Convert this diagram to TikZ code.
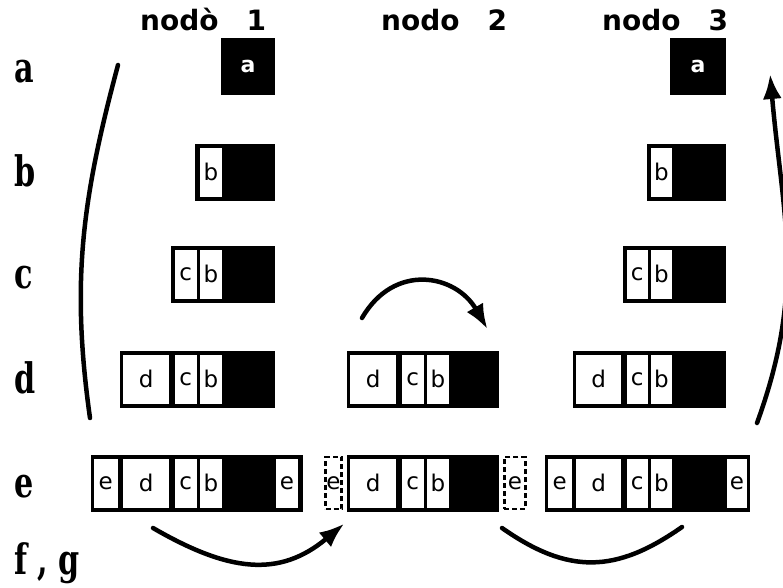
\documentclass[tikz,border=0pt]{standalone}
\usepackage{fontspec}
\newfontfamily\headfont{DejaVu Sans}
\newfontfamily\cellfont{DejaVu Sans}
\newfontfamily\rowfont{DejaVu Serif}
\usetikzlibrary{positioning,arrows,arrows.meta}
\tikzset{
	boxnode/.style={fill=black,draw=none,inner sep=0pt,minimum height=57pt},
	cellnode/.style={fill=white,draw=none,inner sep=0pt,minimum height=49pt,font=\cellfont\fontsize{23}{23}\selectfont},
	dashcell/.style={draw=black,fill=white,dash pattern=on 5pt off 3pt,line width=2.5pt,inner sep=0pt,minimum height=52pt,font=\cellfont\fontsize{23}{23}\selectfont},
	toplabel/.style={font=\headfont\bfseries\fontsize{28}{28}\selectfont,anchor=base west,inner sep=0pt},
	rowlabel/.style={font=\rowfont\bfseries\fontsize{42}{42}\selectfont,anchor=base west,inner sep=0pt,xscale=0.72,transform shape},
	myarc/.style={line width=4.5pt,line cap=round},
	myarrow/.style={-{Latex[length=25pt,width=19pt]},shorten >=1pt,line width=4.5pt,line cap=round}
}
\begin{document}
\begin{tikzpicture}[x=1pt,y=1pt]
		\useasboundingbox (0,0) rectangle (783,-587);
		% column heads and row letters
		\node[toplabel](head1) at (140,-30){nodò\hspace{1em}1};
		\node[toplabel](head2) at (381,-30){nodo\hspace{1em}2};
		\node[toplabel](head3) at (602,-30){nodo\hspace{1em}3};
		\node[rowlabel](rowa) at (14,-82){a};
		\node[rowlabel](rowb) at (14,-186){b};
		\node[rowlabel](rowc) at (14,-288){c};
		\node[rowlabel](rowd) at (14,-393){d};
		\node[rowlabel](rowe) at (14,-497){e};
		\node[rowlabel](rowfg) at (14,-574){f , g};
		% nodo 1
		\node[boxnode,minimum width=54pt,text=white,font=\headfont\bfseries\fontsize{22}{22}\selectfont](n1a) at (248,-66){a};
		\node[boxnode,minimum width=80pt](n1b) at (235,-172){};
		\node[cellnode,minimum width=22pt,left=53pt of n1b.east](n1bb){b};
		\node[boxnode,minimum width=104pt](n1c) at (223,-274){};
		\node[cellnode,minimum width=22pt,left=53pt of n1c.east](n1cb){b};
		\node[cellnode,minimum width=22pt,left=3pt of n1cb](n1cc){c};
		\node[boxnode,minimum width=155pt](n1d) at (197.5,-379){};
		\node[cellnode,minimum width=22pt,left=53pt of n1d.east](n1db){b};
		\node[cellnode,minimum width=22pt,left=3pt of n1db](n1dc){c};
		\node[cellnode,minimum width=46pt,left=5pt of n1dc](n1dd){d};
		\node[boxnode,minimum width=212pt](n1e) at (197,-483){};
		\node[cellnode,minimum width=22pt,left=5pt of n1e.east](n1ex){e};
		\node[cellnode,minimum width=22pt,left=81pt of n1e.east](n1eb){b};
		\node[cellnode,minimum width=22pt,left=3pt of n1eb](n1ec){c};
		\node[cellnode,minimum width=46pt,left=5pt of n1ec](n1ed){d};
		\node[cellnode,minimum width=24pt,left=5pt of n1ed](n1ee){e};
		% nodo 2
		\node[boxnode,minimum width=152pt](n2d) at (423,-379){};
		\node[cellnode,minimum width=22pt,left=50pt of n2d.east](n2db){b};
		\node[cellnode,minimum width=22pt,left=3pt of n2db](n2dc){c};
		\node[cellnode,minimum width=46pt,left=5pt of n2dc](n2dd){d};
		\node[boxnode,minimum width=152pt](n2e) at (423,-483){};
		\node[cellnode,minimum width=22pt,left=50pt of n2e.east](n2eb){b};
		\node[cellnode,minimum width=22pt,left=3pt of n2eb](n2ec){c};
		\node[cellnode,minimum width=46pt,left=5pt of n2ec](n2ed){d};
		\node[dashcell,minimum width=16pt,left=4pt of n2e](n2el){e};
		\node[dashcell,minimum width=21pt,right=4pt of n2e](n2er){e};
		% nodo 3
		\node[boxnode,minimum width=56pt,text=white,font=\headfont\bfseries\fontsize{22}{22}\selectfont](n3a) at (698,-66){a};
		\node[boxnode,minimum width=79pt](n3b) at (686.5,-172){};
		\node[cellnode,minimum width=21pt,left=54pt of n3b.east](n3bb){b};
		\node[boxnode,minimum width=103pt](n3c) at (674.5,-274){};
		\node[cellnode,minimum width=21pt,left=54pt of n3c.east](n3cb){b};
		\node[cellnode,minimum width=21pt,left=3pt of n3cb](n3cc){c};
		\node[boxnode,minimum width=153pt](n3d) at (649.5,-379){};
		\node[cellnode,minimum width=21pt,left=54pt of n3d.east](n3db){b};
		\node[cellnode,minimum width=21pt,left=3pt of n3db](n3dc){c};
		\node[cellnode,minimum width=45pt,left=5pt of n3dc](n3dd){d};
		\node[boxnode,minimum width=205pt](n3e) at (647.5,-483){};
		\node[cellnode,minimum width=20pt,left=3pt of n3e.east](n3ex){e};
		\node[cellnode,minimum width=21pt,left=78pt of n3e.east](n3eb){b};
		\node[cellnode,minimum width=21pt,left=3pt of n3eb](n3ec){c};
		\node[cellnode,minimum width=45pt,left=5pt of n3ec](n3ed){d};
		\node[cellnode,minimum width=24pt,left=4pt of n3ed](n3ee){e};
		% arcs
		\coordinate (lftbot) at (90,-418);
		\coordinate (lfttop) at (118,-65);
		\coordinate (rgtbot) at (757,-423);
		\coordinate (rgttop) at (770,-73);
		\coordinate (midfrom) at (362,-318);
		\coordinate (midto) at (488,-330);
		\coordinate (lowfrom) at (153,-528);
		\coordinate (lowto) at (345,-523);
		\coordinate (arcfrom) at (502,-528);
		\coordinate (arcto) at (682,-527);
		\draw[myarc] (lftbot) to[out=98,in=-105] (lfttop);
		\draw[myarrow] (rgtbot) to[out=70,in=-85,looseness=1.05] (rgttop);
		\draw[myarrow] (midfrom) to[out=60,in=120,looseness=1.3] (midto);
		\draw[myarrow] (lowfrom) to[out=-30,in=-140,looseness=1.15] (lowto);
		\draw[myarc] (arcfrom) to[out=-35,in=-145,looseness=1.15] (arcto);
	\end{tikzpicture}
\end{document}
